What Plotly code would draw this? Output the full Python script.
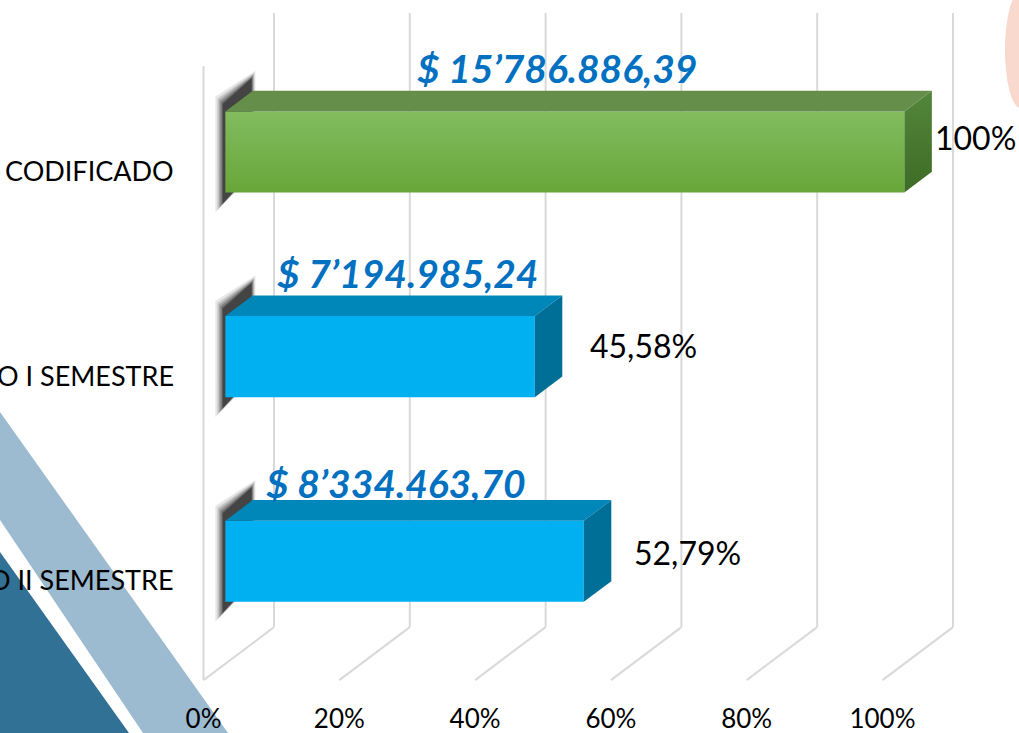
import plotly.graph_objects as go

# ---- data -------------------------------------------------------------
categories = ["CODIFICADO", "DEVENGADO I SEMESTRE", "DEVENGADO II SEMESTRE"]
amounts = [15786886.39, 7194985.24, 8334463.70]
amount_labels = ["$ 15\u2019786.886,39", "$ 7\u2019194.985,24", "$ 8\u2019334.463,70"]
pct_labels = ["100%", "45,58%", "52,79%"]
tick_values = [0, 20, 40, 60, 80, 100]
tick_labels = ["0%", "20%", "40%", "60%", "80%", "100%"]

# share of the coded budget, in percent
percents = [a / amounts[0] * 100 for a in amounts]

# ---- styling / layout constants --------------------------------------
W, H = 1019, 733
PLOT_H = 701                  # plot area height (bottom margin holds ticks)
PX_PER_PCT = 6.79             # horizontal scale
PX_PER_CAT = 204.7            # vertical size of one category band
X0_PX = 203.5                 # pixel of 0 % on the front plane
TOP_PX = 66                   # pixel of front wall top

DEPTH_DX = 70.5 / PX_PER_PCT  # oblique depth vector (data units)
DEPTH_DY = -53 / PX_PER_CAT
T_FRONT, T_BACK = 0.31, 0.70  # bar depth span (fraction of floor depth)
BAR_H = 0.396                 # bar thickness (category units)

x_range = [-X0_PX / PX_PER_PCT, (W - X0_PX) / PX_PER_PCT]
y_top = -0.5 - TOP_PX / PX_PER_CAT
y_bot = -0.5 + (PLOT_H - TOP_PX) / PX_PER_CAT

GRID = "#D9D9D9"
face_colors = [("#82BC5F", "#68A639"), ("#00B0F0", "#00B0F0"), ("#00B0F0", "#00B0F0")]
top_colors = ["#658E4B", "#0087B9", "#0087B9"]
side_colors = [("#53863B", "#3E6C25"), ("#006F97", "#006F97"), ("#006F97", "#006F97")]

amount_label_x = [52.1, 30.0, 28.4]
amount_label_dy = [-0.49, -0.49, -0.465]
pct_label_gap = [7.4, 11.0, 10.3]
pct_label_dy = [-0.153, -0.137, -0.121]

FONT = "Lato"

fig = go.Figure()


def line(xs, ys, color=GRID, width=2):
    fig.add_trace(go.Scatter(x=xs, y=ys, mode="lines", hoverinfo="skip",
                             line=dict(color=color, width=width), showlegend=False))


def poly(xs, ys, color, grad=None, opacity=1.0):
    kw = dict(x=xs + [xs[0]], y=ys + [ys[0]], mode="lines", fill="toself",
              line=dict(width=0, color=color), hoverinfo="skip",
              showlegend=False, opacity=opacity)
    if grad and grad[0] != grad[1]:
        kw["fillgradient"] = dict(type="vertical",
                                  colorscale=[[0, grad[1]], [1, grad[0]]])
    else:
        kw["fillcolor"] = color
    fig.add_trace(go.Scatter(**kw))


# ---- walls, floor and gridlines ----------------------------------------
wall_top, floor = -0.5, 2.5
# left wall front edge
line([0, 0], [wall_top, floor])
for v in tick_values:
    # back wall vertical gridline
    line([v + DEPTH_DX, v + DEPTH_DX], [wall_top + DEPTH_DY, floor + DEPTH_DY])
    # floor line from front to back
    line([v, v + DEPTH_DX], [floor, floor + DEPTH_DY])

# ---- bars ---------------------------------------------------------------
px_x = 1 / PX_PER_PCT
px_y = 1 / PX_PER_CAT
for i, p in enumerate(percents):
    fx, bx = T_FRONT * DEPTH_DX, T_BACK * DEPTH_DX
    fy, by = T_FRONT * DEPTH_DY, T_BACK * DEPTH_DY
    top_f, bot_f = i - BAR_H / 2 + fy, i + BAR_H / 2 + fy
    top_b, bot_b = i - BAR_H / 2 + by, i + BAR_H / 2 + by

    # soft drop shadow on the bar's left end (stacked layers fake a blur)
    for e, op in [(10, 0.10), (8, 0.14), (6.5, 0.18), (5, 0.24), (3.5, 0.3), (2.5, 0.35)]:
        poly([fx - e * px_x, bx + (e - 5) * 0.5 * px_x, bx + (e - 5) * 0.5 * px_x, fx - e * px_x],
             [top_f - (5 + e) * px_y, top_b - (10 + e) * px_y, bot_b, bot_f + (8 + e * 1.2) * px_y],
             "#111111", opacity=op)

    # front face
    poly([fx, fx + p, fx + p, fx], [top_f, top_f, bot_f, bot_f],
         face_colors[i][0], grad=face_colors[i])
    # top face
    poly([fx, fx + p, bx + p, bx], [top_f, top_f, top_b, top_b], top_colors[i])
    # right end face
    poly([fx + p, bx + p, bx + p, fx + p], [top_f, top_b, bot_b, bot_f],
         side_colors[i][0], grad=side_colors[i])

# ---- text ---------------------------------------------------------------
annotations = []
for i, name in enumerate(categories):
    annotations.append(dict(x=-4.1, y=i + 0.01, xref="x", yref="y", text=name,
                            showarrow=False, xanchor="right", yanchor="middle",
                            font=dict(family=FONT, size=27, color="#000000")))
    annotations.append(dict(x=amount_label_x[i], y=i + amount_label_dy[i], xref="x", yref="y",
                            text="<b><i>" + amount_labels[i] + "</i></b>", showarrow=False,
                            xanchor="center", yanchor="middle",
                            font=dict(family=FONT, size=39, color="#0070C0")))
    annotations.append(dict(x=percents[i] + pct_label_gap[i], y=i + pct_label_dy[i],
                            xref="x", yref="y", text=pct_labels[i], showarrow=False,
                            xanchor="left", yanchor="middle",
                            font=dict(family=FONT, size=32, color="#000000")))

# ---- slide decorations ------------------------------------------------
def pp(x, y):
    return f"{x / W:.5f},{1 - y / PLOT_H:.5f}"

shapes = [
    dict(type="path", xref="paper", yref="paper", layer="below", line=dict(width=0),
         fillcolor="#9CBAD0",
         path=f"M {pp(0, 412)} L {pp(228, 733)} L {pp(143, 733)} L {pp(0, 520)} Z"),
    dict(type="path", xref="paper", yref="paper", layer="below", line=dict(width=0),
         fillcolor="#327196",
         path=f"M {pp(0, 552)} L {pp(129, 733)} L {pp(0, 733)} Z"),
    dict(type="circle", xref="paper", yref="paper", layer="below", line=dict(width=0),
         fillcolor="#F9D8CD",
         x0=1005 / W, x1=1036 / W, y0=1 - 108 / PLOT_H, y1=1 + 8 / PLOT_H),
]

fig.update_layout(
    width=W, height=H,
    margin=dict(l=0, r=0, t=0, b=H - PLOT_H, pad=0),
    paper_bgcolor="#FFFFFF", plot_bgcolor="rgba(0,0,0,0)",
    showlegend=False,
    xaxis=dict(range=x_range, tickvals=tick_values, ticktext=tick_labels,
               showgrid=False, zeroline=False, showline=False, ticks="",
               tickfont=dict(family=FONT, size=26, color="#000000"),
               fixedrange=True, automargin=False),
    yaxis=dict(range=[y_bot, y_top], visible=False, fixedrange=True),
    annotations=annotations,
    shapes=shapes,
)

fig.write_html("out.html")
